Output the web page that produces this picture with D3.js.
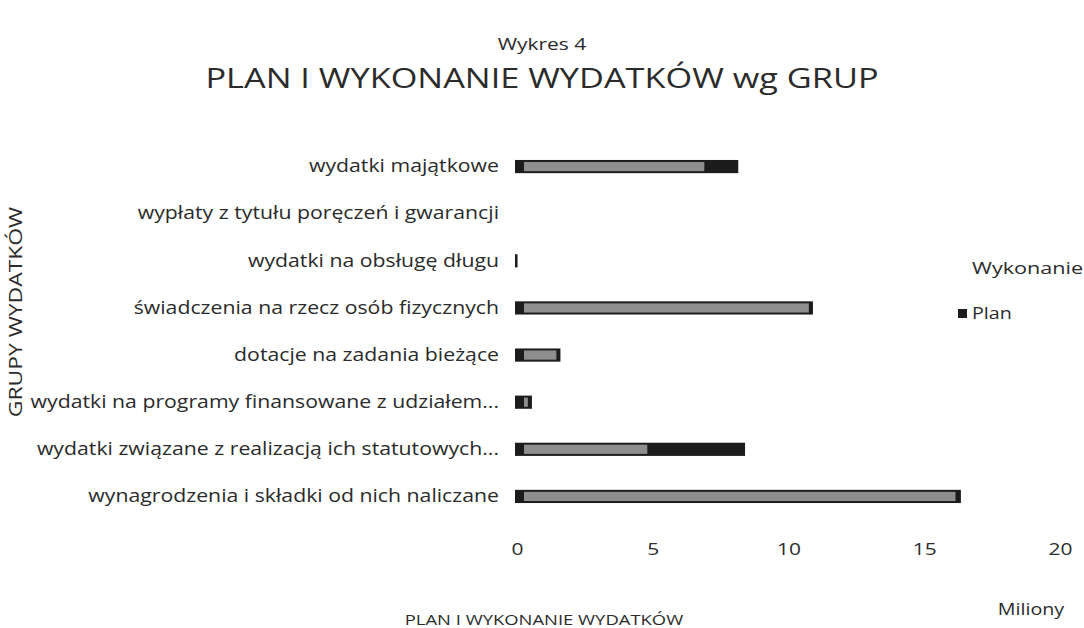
<!DOCTYPE html>
<html>
<head>
<meta charset="utf-8">
<script src="https://cdn.jsdelivr.net/npm/d3@7"></script>
<style>
  body { margin: 0; background: #fff; }
  svg text { font-family: "Open Sans", "DejaVu Sans", sans-serif; fill: #2b2b2b; }
</style>
</head>
<body>
<script>
// data (in millions)
const categories = [
  'wydatki majątkowe',
  'wypłaty z tytułu poręczeń i gwarancji',
  'wydatki na obsługę długu',
  'świadczenia na rzecz osób fizycznych',
  'dotacje na zadania bieżące',
  'wydatki na programy finansowane z udziałem...',
  'wydatki związane z realizacją ich statutowych...',
  'wynagrodzenia i składki od nich naliczane'
];
const plan = [8.15, 0, 0.02, 10.9, 1.6, 0.55, 8.4, 16.35];
const wykonanie = [6.9, 0, 0, 10.75, 1.45, 0.4, 4.8, 16.15];
const ticks = [0, 5, 10, 15, 20];

const width = 1084;
const height = 628;
const left = 517;
const right = 1060;

const svg = d3.select('body').append('svg')
  .attr('width', width)
  .attr('height', height);

const x = d3.scaleLinear().domain([0, 20]).range([left, right]);
const y = d3.scaleBand()
  .domain(categories)
  .range([143, 520])
  .paddingInner(0.72)
  .paddingOuter(0.36);

// the scanned text is wide: stretch glyphs horizontally
const widen = (k) => (sel) => sel.each(function w() {
  const len = this.getComputedTextLength();
  d3.select(this)
    .attr('textLength', len * k)
    .attr('lengthAdjust', 'spacingAndGlyphs');
});

// titles
svg.append('text')
  .attr('x', 542).attr('y', 50)
  .attr('text-anchor', 'middle')
  .style('font-size', '16.5px')
  .text('Wykres 4')
  .call(widen(1.27));
svg.append('text')
  .attr('x', 542).attr('y', 88)
  .attr('text-anchor', 'middle')
  .style('font-size', '27px')
  .text('PLAN I WYKONANIE WYDATKÓW wg GRUP')
  .call(widen(1.27));

// bars: plan (black) behind, wykonanie (gray) in front
const rows = svg.append('g').selectAll('g')
  .data(categories)
  .join('g');

rows.append('rect')
  .attr('x', (d) => x(0) - 2)
  .attr('y', (d) => y(d))
  .attr('height', y.bandwidth())
  .attr('width', (d, i) => (plan[i] > 0 ? x(plan[i]) - x(0) + 2 : 0))
  .attr('fill', '#1c1c1c');

rows.append('rect')
  .attr('x', (d) => x(0) + 7)
  .attr('y', (d) => y(d) + 2)
  .attr('height', y.bandwidth() - 4)
  .attr('width', (d, i) => Math.max(0, x(wykonanie[i]) - x(0) - 7))
  .attr('fill', '#8e8e8e');

// category labels
const gy = svg.append('g')
  .attr('transform', `translate(${left - 18}, 0)`)
  .call(d3.axisLeft(y).tickSize(0).tickPadding(0));
gy.select('.domain').remove();
gy.selectAll('text')
  .style('font-size', '18px')
  .attr('fill', '#2b2b2b')
  .call(widen(1.18));

// value axis
const gx = svg.append('g')
  .attr('transform', 'translate(0, 533)')
  .call(d3.axisBottom(x).tickValues(ticks).tickSize(0).tickPadding(10));
gx.select('.domain').remove();
gx.selectAll('text')
  .style('font-size', '16.5px')
  .attr('fill', '#2b2b2b')
  .call(widen(1.27));

svg.append('text')
  .attr('x', 1031).attr('y', 615)
  .attr('text-anchor', 'middle')
  .style('font-size', '15.5px')
  .text('Miliony')
  .call(widen(1.27));

svg.append('text')
  .attr('x', 544).attr('y', 625)
  .attr('text-anchor', 'middle')
  .style('font-size', '14.5px')
  .text('PLAN I WYKONANIE WYDATKÓW')
  .call(widen(1.27));

svg.append('text')
  .attr('transform', 'translate(22, 312) rotate(-90)')
  .attr('text-anchor', 'middle')
  .style('font-size', '18px')
  .text('GRUPY WYDATKÓW')
  .call(widen(1.27));

// legend
svg.append('text')
  .attr('x', 972).attr('y', 274)
  .style('font-size', '17px')
  .text('Wykonanie')
  .call(widen(1.27));
svg.append('rect')
  .attr('x', 958).attr('y', 309)
  .attr('width', 9).attr('height', 9)
  .attr('fill', '#1c1c1c');
svg.append('text')
  .attr('x', 972).attr('y', 319)
  .style('font-size', '15.5px')
  .text('Plan')
  .call(widen(1.27));
</script>
</body>
</html>
